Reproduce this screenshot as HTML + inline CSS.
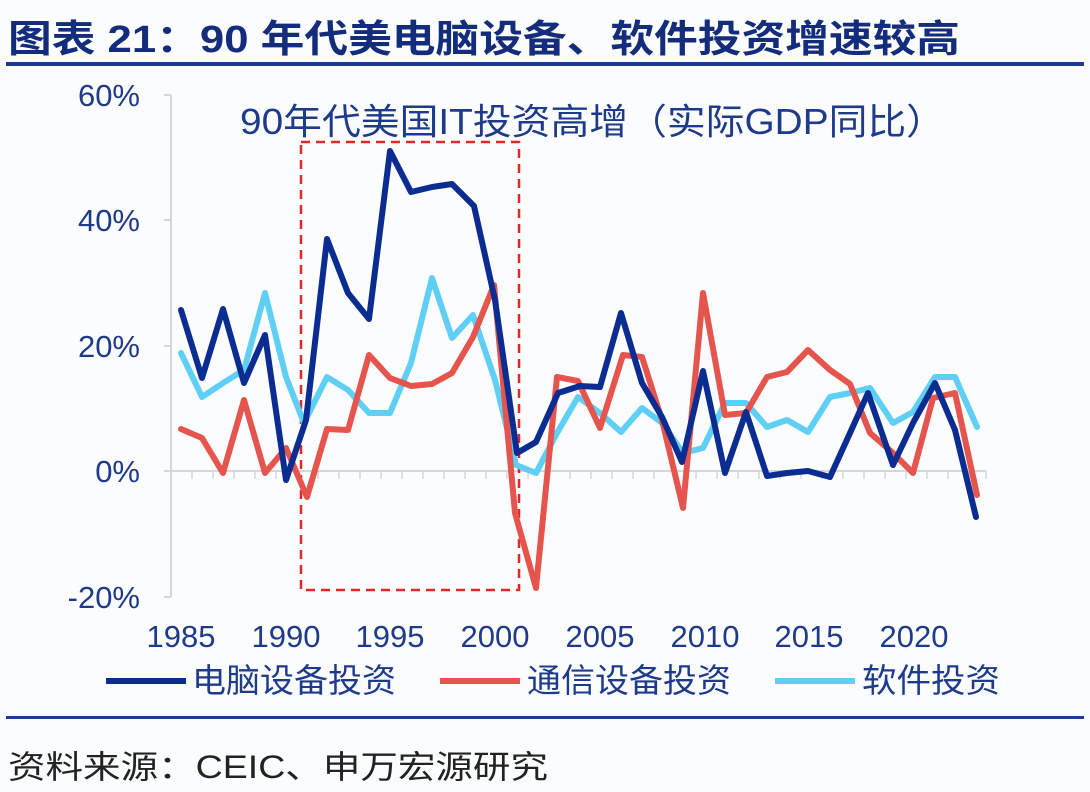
<!DOCTYPE html>
<html><head><meta charset="utf-8"><style>
html,body{margin:0;padding:0;background:#fbfcfe;}
svg{display:block;}
text{font-family:"Liberation Sans","Noto Sans CJK SC",sans-serif;}
</style></head><body>
<svg width="1090" height="792" viewBox="0 0 1090 792" xmlns="http://www.w3.org/2000/svg">
<rect width="1090" height="792" fill="#fbfcfe"/>
<text x="8" y="52" font-size="38" font-weight="bold" fill="#142c7c" textLength="952" lengthAdjust="spacingAndGlyphs">图表 21：90 年代美电脑设备、软件投资增速较高</text>
<rect x="6" y="62" width="1078" height="4" fill="#1d3a94"/>
<g stroke="#d4d6da" stroke-width="2" fill="none">
<line x1="171" y1="95" x2="171" y2="597"/>
<line x1="164" y1="95" x2="171" y2="95"/>
<line x1="164" y1="220" x2="171" y2="220"/>
<line x1="164" y1="346" x2="171" y2="346"/>
<line x1="164" y1="471" x2="171" y2="471"/>
<line x1="164" y1="597" x2="171" y2="597"/>
<line x1="171" y1="471" x2="986" y2="471"/>
</g>
<g stroke="#d4d6da" stroke-width="1.5">
<path d="M192 471v8M213 471v8M234 471v8M255 471v8M276 471v8M297 471v8M318 471v8M339 471v8M360 471v8M381 471v8M402 471v8M423 471v8M444 471v8M465 471v8M486 471v8M507 471v8M528 471v8M549 471v8M570 471v8M591 471v8M612 471v8M633 471v8M654 471v8M675 471v8M696 471v8M717 471v8M738 471v8M759 471v8M780 471v8M801 471v8M822 471v8M843 471v8M864 471v8M885 471v8M906 471v8M927 471v8M948 471v8M969 471v8M986 471v8"/>
</g>
<g font-size="31" fill="#1e3a8a" text-anchor="end">
<text x="140" y="106">60%</text>
<text x="140" y="231">40%</text>
<text x="140" y="357">20%</text>
<text x="140" y="482">0%</text>
<text x="140" y="608">-20%</text>
</g>
<g font-size="31" fill="#1e3a8a" text-anchor="middle">
<text x="181" y="647">1985</text>
<text x="286" y="647">1990</text>
<text x="390" y="647">1995</text>
<text x="495" y="647">2000</text>
<text x="600" y="647">2005</text>
<text x="705" y="647">2010</text>
<text x="809" y="647">2015</text>
<text x="914" y="647">2020</text>
</g>
<text x="240" y="134" font-size="36" fill="#1e3a8a" textLength="705" lengthAdjust="spacingAndGlyphs">90年代美国IT投资高增（实际GDP同比）</text>
<rect x="301" y="142" width="218" height="448" fill="none" stroke="#e02828" stroke-width="2.5" stroke-dasharray="9,6"/>
<g fill="none" stroke-width="6" stroke-linejoin="round" stroke-linecap="round">
<polyline stroke="#5fcff5" points="181,353 202,397 223,383 244,370 265,293 286,377 304,423 327,377 348,390 369,413 390,413 411,363 432,278 452,338 473,315 495,380 516,465 536,473 557,433 578,397 600,413 621,432 642,408 662,423 683,453 703,448 725,403 746,403 767,427 787,420 808,432 830,397 850,393 870,388 893,423 913,412 935,377 955,377 977,427"/>
<polyline stroke="#e5544d" points="181,429 202,438 223,473 244,400 265,473 286,448 307,497 327,429 348,430 369,355 390,378 411,386 432,384 452,373 473,337 494,285 515,513 536,588 557,377 578,381 600,428 623,355 642,357 662,420 683,508 703,293 725,415 746,413 767,377 787,372 808,350 830,370 850,384 870,433 893,453 913,473 933,398 955,393 977,495"/>
<polyline stroke="#0b2d92" points="181,310 202,378 223,309 244,383 265,335 286,480 306,420 327,239 348,293 369,319 390,151 411,192 432,187 452,184 474,206 495,300 517,453 536,442 558,393 580,386 600,387 621,313 642,383 662,417 682,462 703,371 725,473 746,412 767,476 787,473 808,471 830,477 850,433 868,393 893,465 913,423 935,383 955,430 976,517"/>
</g>
<line x1="106" y1="681" x2="186" y2="681" stroke="#0b2d92" stroke-width="6"/>
<text x="192" y="692" font-size="33" fill="#1e3a8a" textLength="204" lengthAdjust="spacingAndGlyphs">电脑设备投资</text>
<line x1="440" y1="681" x2="520" y2="681" stroke="#e5544d" stroke-width="6"/>
<text x="527" y="692" font-size="33" fill="#1e3a8a" textLength="204" lengthAdjust="spacingAndGlyphs">通信设备投资</text>
<line x1="775" y1="681" x2="855" y2="681" stroke="#5fcff5" stroke-width="6"/>
<text x="862" y="692" font-size="33" fill="#1e3a8a" textLength="138" lengthAdjust="spacingAndGlyphs">软件投资</text>
<rect x="6" y="716" width="1078" height="3" fill="#1d3a94"/>
<text x="8" y="778" font-size="32" fill="#222" textLength="540" lengthAdjust="spacingAndGlyphs">资料来源：CEIC、申万宏源研究</text>
</svg>
</body></html>
